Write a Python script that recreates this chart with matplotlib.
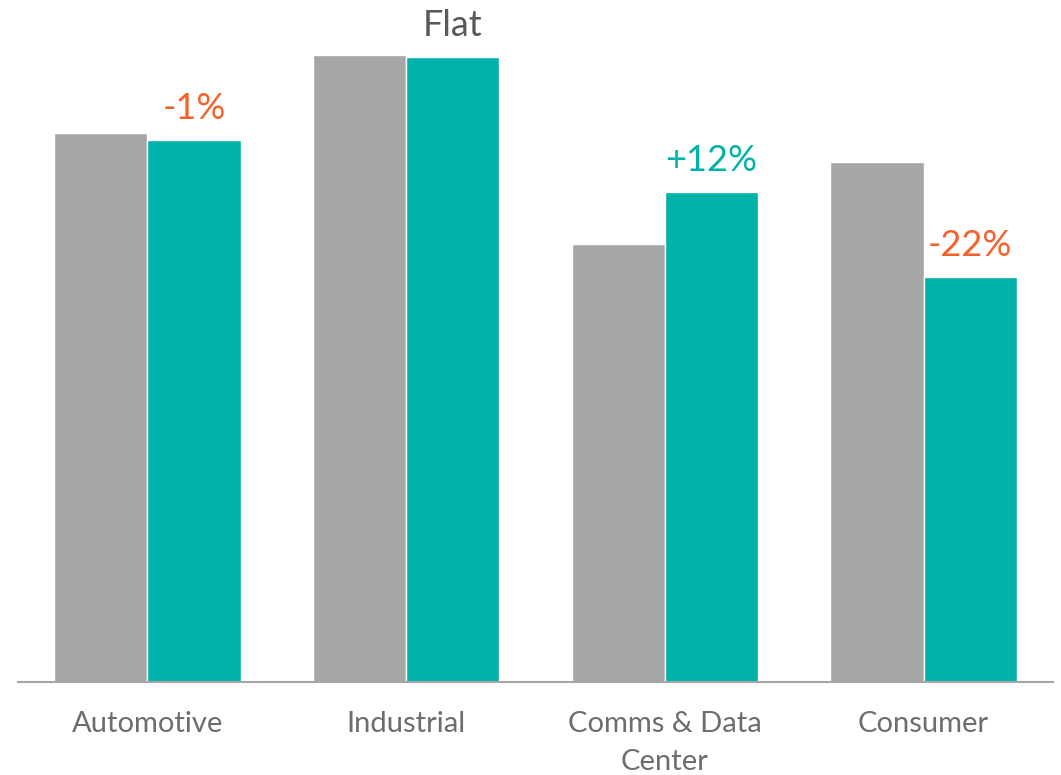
import numpy as np
import matplotlib.pyplot as plt

# Segment revenue, prior vs current (arbitrary units)
categories = ["Automotive", "Industrial", "Comms & Data\nCenter", "Consumer"]
prior = [549, 627, 438, 520]
current = [542, 625, 490, 405]
change_labels = ["-1%", "Flat", "+12%", "-22%"]

GRAY = "#A6A6A6"
TEAL = "#00B2A9"
ORANGE = "#F4612B"
label_colors = [ORANGE, "#595959", TEAL, ORANGE]

plt.rcParams['font.family'] = ['Lato', 'DejaVu Sans']

fig = plt.figure(figsize=(10.61, 7.75), dpi=100)
ax = fig.add_axes([18 / 1061, 93 / 775, 1035 / 1061, 682 / 775])

x = np.arange(len(categories))
w = 0.36
ax.bar(x - w / 2, prior, w, color=GRAY, edgecolor="white", linewidth=1)
bars = ax.bar(x + w / 2, current, w, color=TEAL, edgecolor="white", linewidth=1)

# change labels above the current-year bars
for b, txt, c in zip(bars, change_labels, label_colors):
    ax.annotate(txt, (b.get_x() + b.get_width() / 2, b.get_height()),
                xytext=(0, 15), textcoords="offset points",
                ha="center", va="baseline", fontsize=26, color=c)

ax.set_xlim(-0.5, len(categories) - 0.5)
ax.set_ylim(0, 682)
ax.set_xticks(x)
ax.set_xticklabels(categories, fontsize=21, color="#6D6D6D", linespacing=1.55)
ax.tick_params(axis="x", length=0, pad=21)
ax.set_yticks([])
for s in ["top", "right", "left"]:
    ax.spines[s].set_visible(False)
ax.spines["bottom"].set_color(GRAY)
ax.spines["bottom"].set_linewidth(1.5)

fig.savefig("out.png", dpi=100)
